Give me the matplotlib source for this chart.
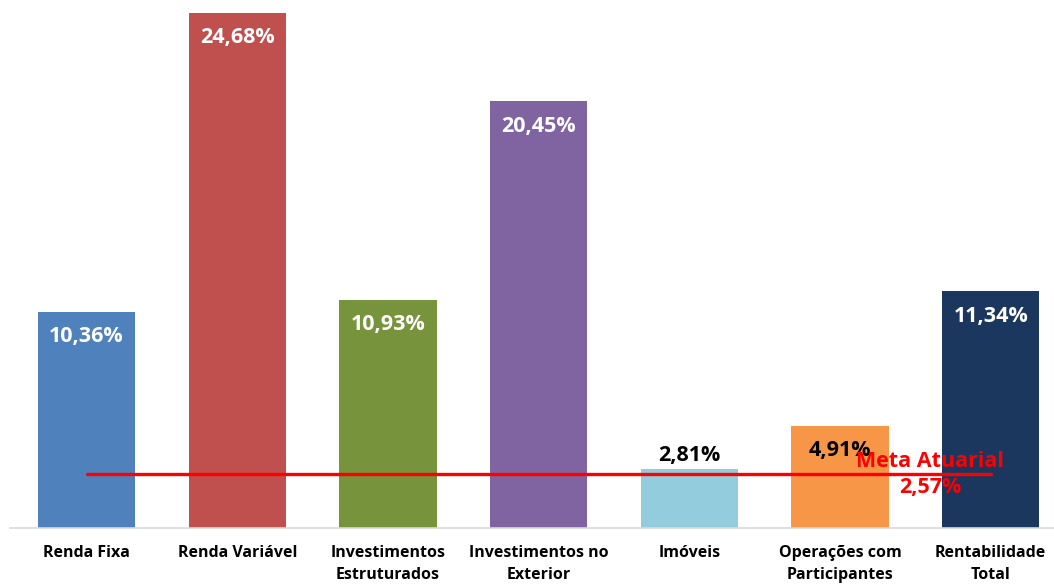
import matplotlib
matplotlib.use("Agg")
import matplotlib.pyplot as plt

# ── data ──────────────────────────────────────────────────────────────────────
categories = [
    "Renda Fixa",
    "Renda Variável",
    "Investimentos\nEstruturados",
    "Investimentos no\nExterior",
    "Imóveis",
    "Operações com\nParticipantes",
    "Rentabilidade\nTotal",
]
values = [10.36, 24.68, 10.93, 20.45, 2.81, 4.91, 11.34]
meta_atuarial = 2.57

colors = ["#4F81BD", "#C0504D", "#77933C", "#8064A2", "#93CDDD", "#F79646", "#1B375E"]
label_colors = ["white", "white", "white", "white", "black", "black", "white"]
label_inside = [True, True, True, True, False, True, True]

plt.rcParams["font.family"] = ["Open Sans", "DejaVu Sans"]

fig = plt.figure(figsize=(10.54, 5.85), dpi=100)
ax = fig.add_axes([10 / 1054, 57 / 585, 1044 / 1054, 528 / 585])

x = list(range(len(categories)))
ax.bar(x, values, width=0.645, color=colors, zorder=2)

for xi, v, c, inside in zip(x, values, label_colors, label_inside):
    txt = f"{v:.2f}%".replace(".", ",")
    ax.annotate(
        txt,
        xy=(xi, v),
        xytext=(0, -18 if inside else 10),
        textcoords="offset points",
        ha="center",
        va="center",
        fontsize=15.5,
        fontweight="bold",
        color=c,
        zorder=4,
    )

ax.plot(x, [meta_atuarial] * len(x), color="#FF0000", linewidth=2.4,
        solid_capstyle="round", zorder=3)
ax.annotate(
    "Meta Atuarial\n" + f"{meta_atuarial:.2f}%".replace(".", ","),
    xy=(5.6, meta_atuarial),
    ha="center",
    va="center",
    fontsize=15.5,
    fontweight="bold",
    color="#FF0000",
    linespacing=1.35,
    zorder=5,
)

ax.set_xlim(-0.508, 6.42)
ax.set_ylim(0, 25.3)
ax.set_xticks(x)
ax.set_xticklabels(categories, fontsize=11.5, fontweight="bold", linespacing=1.55)
ax.tick_params(axis="x", length=0, pad=12)
ax.set_yticks([])
for s in ["top", "right", "left"]:
    ax.spines[s].set_visible(False)
ax.spines["bottom"].set_color("#D9D9D9")
ax.spines["bottom"].set_linewidth(1.2)

fig.savefig("out.png", dpi=100, facecolor="white")
